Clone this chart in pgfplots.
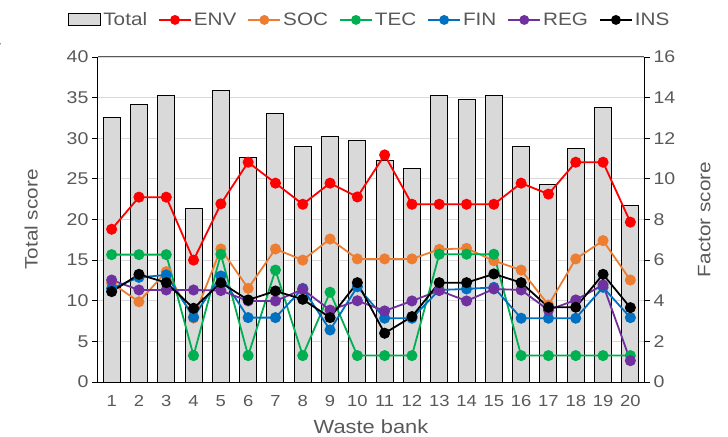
\documentclass[border=0pt]{standalone}
\usepackage{fontspec}
\setmainfont[FakeStretch=1.15]{Liberation Sans}
\usepackage{pgfplots}
\usepackage{pgfplotstable}
\pgfplotsset{compat=1.18}
\definecolor{txt}{HTML}{595959}
\definecolor{gridc}{HTML}{D9D9D9}
\definecolor{barc}{HTML}{D9D9D9}
\definecolor{envc}{HTML}{FF0000}
\definecolor{socc}{HTML}{ED7D31}
\definecolor{tecc}{HTML}{00B050}
\definecolor{finc}{HTML}{0070C0}
\definecolor{regc}{HTML}{7030A0}
\definecolor{insc}{HTML}{000000}
\pgfplotstableread{
x total env soc tec fin reg ins
1 32.6 7.52 4.87 6.27 4.61 5.02 4.45
2 34.2 9.10 3.95 6.27 5.15 4.53 5.30
3 35.2 9.10 5.43 6.27 5.27 4.53 4.89
4 21.4 6.00 3.15 1.30 3.19 4.53 3.63
5 35.9 8.77 6.55 6.29 5.22 4.50 4.89
6 27.6 10.82 4.61 1.30 3.17 3.99 4.04
7 33.1 9.79 6.55 5.51 3.17 3.99 4.48
8 29.0 8.75 6.00 1.30 4.61 4.56 4.07
9 30.2 9.79 7.04 4.42 2.56 3.54 3.17
10 29.7 9.11 6.06 1.30 4.69 4.00 4.89
11 27.3 11.18 6.06 1.30 3.14 3.50 2.40
12 26.3 8.75 6.06 1.30 3.14 3.99 3.22
13 35.2 8.75 6.53 6.29 4.53 4.50 4.89
14 34.8 8.75 6.58 6.29 4.58 3.99 4.89
15 35.2 8.75 5.97 6.29 4.66 4.58 5.32
16 29.0 9.79 5.51 1.30 3.14 4.53 4.89
17 24.3 9.25 3.79 1.30 3.14 3.54 3.68
18 28.7 10.82 6.06 1.30 3.14 4.04 3.68
19 33.8 10.82 6.96 1.30 4.66 4.78 5.30
20 21.7 7.87 5.02 1.30 3.17 1.05 3.66
}\data
\begin{document}
\begin{tikzpicture}
\pgfplotsset{
  common/.style={
    width=546bp, height=325bp, scale only axis,
    at={(0,0)}, anchor=south west,
    xmin=0.5, xmax=20.5,
    /pgf/number format/assume math mode=true,
    tick align=outside, major tick length=6bp,
    axis line style={-, black, line width=1bp},
    label style={font=\fontsize{18bp}{21bp}\selectfont, text=txt},
  },
  lin/.style={line width=1.8bp, mark=*, mark size=4.6bp, mark options={solid}},
}
\begin{axis}[common,
  ymin=0, ymax=40, ytick={0,5,...,40},
  xtick={1,...,20},
  axis y line*=left, axis x line*=bottom,
  xtick style={draw=none},
  ytick style={black, line width=0.9bp},
  ymajorgrids, grid style={gridc, line width=0.9bp},
  xticklabel style={font=\fontsize{16bp}{19bp}\selectfont, text=txt, yshift=-4bp},
  yticklabel style={font=\fontsize{17bp}{20bp}\selectfont, text=txt},
  xlabel={Waste bank}, ylabel={Total score},
  xlabel style={font=\fontsize{19bp}{22bp}\selectfont, yshift=-6bp},
  ylabel style={yshift=22bp},
]
\addplot[ybar, bar width=17bp, fill=barc, draw=black, line width=1bp] table[x=x,y=total]{\data};
\draw[txt, line width=1bp] (rel axis cs:0,1) -- (rel axis cs:1,1);
\end{axis}
\begin{axis}[common,
  ymin=0, ymax=16, ytick={0,2,...,16},
  axis y line*=right, axis x line=none,
  ytick style={black, line width=0.9bp},
  yticklabel style={font=\fontsize{17bp}{20bp}\selectfont, text=txt},
  ylabel={Factor score},
  ylabel style={yshift=-16bp},
  legend style={at={(0.498,1.114)}, anchor=center, draw=none, fill=none,
    font=\fontsize{18bp}{21bp}\selectfont, text=txt,
    /tikz/every even column/.append style={column sep=9bp}},
  legend columns=7,
  legend image code/.code={\draw[mark repeat=2,mark phase=2,#1,mark size=4bp] plot coordinates {(0bp,0bp) (16bp,0bp) (32bp,0bp)};},
]
\addlegendimage{legend image code/.code={\draw[fill=barc,draw=black,line width=0.9bp] (0bp,-6bp) rectangle (32bp,6bp);}}
\addlegendentry{Total}
\addplot[lin, envc] table[x=x,y=env]{\data}; \addlegendentry{ENV}
\addplot[lin, socc] table[x=x,y=soc]{\data}; \addlegendentry{SOC}
\addplot[lin, tecc] table[x=x,y=tec]{\data}; \addlegendentry{TEC}
\addplot[lin, finc] table[x=x,y=fin]{\data}; \addlegendentry{FIN}
\addplot[lin, regc] table[x=x,y=reg]{\data}; \addlegendentry{REG}
\addplot[lin, insc] table[x=x,y=ins]{\data}; \addlegendentry{INS}
\end{axis}
\node[anchor=east, text=txt, font=\fontsize{17bp}{20bp}\selectfont] at (-93bp,340bp) {4};
\pgfresetboundingbox
\useasboundingbox (-98bp,-55bp) rectangle (630bp,382bp);
\end{tikzpicture}
\end{document}
